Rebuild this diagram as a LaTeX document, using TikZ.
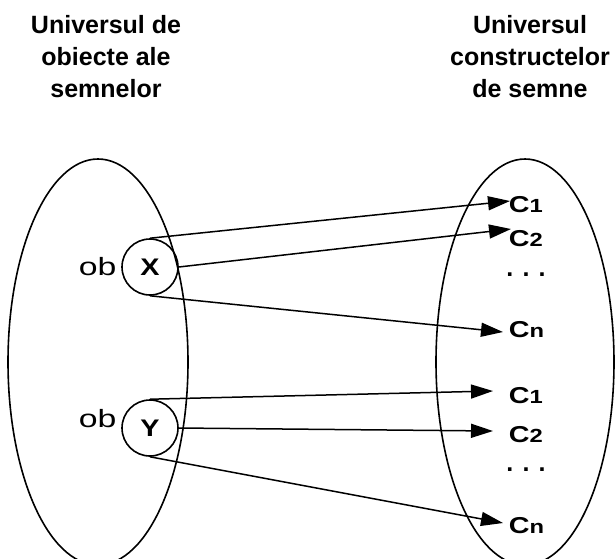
\documentclass[tikz,border=0pt]{standalone}
\usepackage{fontspec}
\usepackage{graphicx}
\setmainfont{Liberation Sans}
\usetikzlibrary{arrows.meta}
\newcommand\clab[1]{\scalebox{1.25}[1]{{\fontsize{23}{23}\selectfont C}{\fontsize{19}{19}\selectfont #1}}}
\begin{document}
\begin{tikzpicture}[x=1pt,y=-1pt,
  line width=1.6pt,
  title/.style={font=\fontsize{25}{32}\selectfont\bfseries, align=center, inner sep=0pt, anchor=base},
  obj/.style={circle, draw, minimum size=56pt, inner sep=0pt, font=\fontsize{24}{24}\selectfont\bfseries},
  oblabel/.style={font=\fontsize{25}{25}\selectfont, inner sep=0pt, anchor=base west},
  cons/.style={anchor=base west, inner sep=0pt, font=\bfseries},
  dots/.style={anchor=base west, inner sep=0pt, font=\fontsize{25}{25}\selectfont\bfseries},
  arr/.style={-{Triangle[length=22pt,width=14pt]}, line width=1.5pt}
]
\useasboundingbox (0,0) rectangle (615,558);
\begin{scope}
  \clip (0,0) rectangle (615,558);
  \draw (98,362) ellipse [x radius=90pt, y radius=203pt];
  \draw (525,362) ellipse [x radius=89pt, y radius=203pt];
\end{scope}

\node[title] (tl) at (106,97) {Universul de\\obiecte ale\\semnelor};
\node[title] (tr) at (530,97) {Universul\\constructelor\\de semne};

\node[obj] (X) at (150,267) {\scalebox{1.2}[1]{X}};
\node[obj] (Y) at (150,428) {\scalebox{1.2}[1]{Y}};
\node[oblabel] (obx) at (78,275) {\scalebox{1.35}[1]{ob}};
\node[oblabel] (oby) at (78,427) {\scalebox{1.35}[1]{ob}};

\node[cons] (a1) at (508,212) {\clab{1}};
\node[cons] (a2) at (508,246) {\clab{2}};
\node[dots] (ad) at (505.5,276) {. . .};
\node[cons] (an) at (508,337) {\clab{n}};
\node[cons] (b1) at (508,403) {\clab{1}};
\node[cons] (b2) at (508,442) {\clab{2}};
\node[dots] (bd) at (505.5,471) {. . .};
\node[cons] (bn) at (508,533) {\clab{n}};

\coordinate (ta1) at (510,201);
\coordinate (ta2) at (511,229);
\coordinate (tan) at (503,332);
\coordinate (tb1) at (493,391);
\coordinate (tb2) at (493,431);
\coordinate (tbn) at (503,523);

\draw[arr] (X.north) -- (ta1);
\draw[arr] (X.east) -- (ta2);
\draw[arr] (X.south) -- (tan);
\draw[arr] (Y.north) -- (tb1);
\draw[arr] (Y.east) -- (tb2);
\draw[arr] (Y.south) -- (tbn);
\end{tikzpicture}
\end{document}
